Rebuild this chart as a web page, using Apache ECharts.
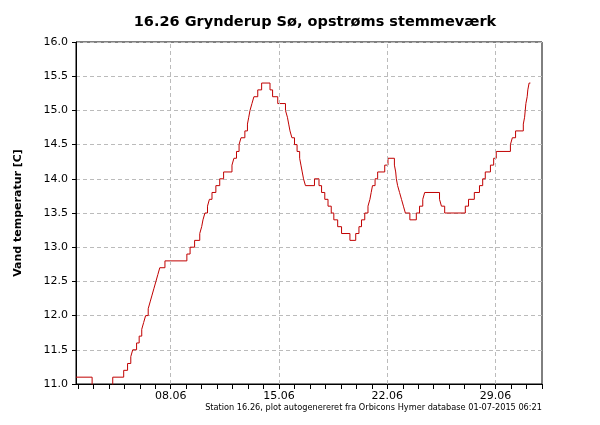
<!DOCTYPE html>
<html><head><meta charset="utf-8">
<script src="https://cdn.jsdelivr.net/npm/echarts@6/dist/echarts.min.js"></script>
<style>html,body{margin:0;padding:0;background:#fff}#c{width:600px;height:425px}</style>
</head><body><div id="c"></div>
<script>
const times = ["06-01 21","06-02 22","06-04 06","06-04 23","06-05 05","06-05 10","06-05 13","06-05 19","06-05 23","06-06 03","06-06 06","06-06 09","06-06 13","06-06 16","06-06 19","06-06 22","06-07 01","06-07 04","06-07 07","06-07 15","06-09 01","06-09 06","06-09 13","06-09 21","06-10 00","06-10 02","06-10 05","06-10 09","06-10 12","06-10 16","06-10 22","06-11 04","06-11 10","06-11 23","06-12 02","06-12 06","06-12 10","06-12 13","06-12 19","06-12 23","06-13 01","06-13 03","06-13 06","06-13 09","06-13 15","06-13 21","06-14 10","06-14 14","06-14 22","06-15 10","06-15 13","06-15 15","06-15 17","06-15 20","06-16 00","06-16 04","06-16 08","06-16 10","06-16 12","06-16 14","06-16 17","06-17 07","06-17 14","06-17 18","06-17 23","06-18 04","06-18 09","06-18 13","06-18 19","06-19 01","06-19 14","06-19 23","06-20 04","06-20 08","06-20 13","06-20 18","06-20 21","06-20 23","06-21 01","06-21 05","06-21 09","06-21 20","06-22 01","06-22 11","06-22 13","06-22 14","06-22 16","06-22 19","06-22 22","06-23 01","06-23 04","06-23 11","06-23 21","06-24 02","06-24 07","06-24 10","06-25 09","06-25 12","06-25 17","06-27 01","06-27 06","06-27 15","06-27 23","06-28 04","06-28 08","06-28 16","06-28 21","06-29 01","06-29 23","06-30 02","06-30 07","06-30 19","06-30 21","06-30 22","06-30 23","07-01 01","07-01 02","07-01 04","07-01 06"];
const temps = [11.1,10.9,11.1,11.2,11.3,11.4,11.5,11.6,11.7,11.8,11.9,12.0,12.1,12.2,12.3,12.4,12.5,12.6,12.7,12.8,12.9,13.0,13.1,13.2,13.3,13.4,13.5,13.6,13.7,13.8,13.9,14.0,14.1,14.2,14.3,14.4,14.5,14.6,14.7,14.8,14.9,15.0,15.1,15.2,15.3,15.4,15.3,15.2,15.1,15.0,14.9,14.8,14.7,14.6,14.5,14.4,14.3,14.2,14.1,14.0,13.9,14.0,13.9,13.8,13.7,13.6,13.5,13.4,13.3,13.2,13.1,13.2,13.3,13.4,13.5,13.6,13.7,13.8,13.9,14.0,14.1,14.2,14.3,14.2,14.1,14.0,13.9,13.8,13.7,13.6,13.5,13.4,13.5,13.6,13.7,13.8,13.7,13.6,13.5,13.6,13.7,13.8,13.9,14.0,14.1,14.2,14.3,14.4,14.5,14.6,14.7,14.8,14.9,15.0,15.1,15.2,15.3,15.4,15.4];
const tickDays = [7,14,21,28];
const tickLabels = ["08.06","15.06","22.06","29.06"];

function toDay(s){ // days since 01.06 00:00
  const [md,h]=s.split(' '); const [m,d]=md.split('-').map(Number);
  return (m===6? d-1 : 30+d-1) + Number(h)/24;
}
const data = times.map((t,i)=>[toDay(t),temps[i]]);
const dayTicks=[]; for(let d=1; d<=31; d++) dayTicks.push(d);
const font='DejaVu Sans';
const chart = echarts.init(document.getElementById('c'));
chart.setOption({
  animation:false,
  title:{text:'16.26 Grynderup Sø, opstrøms stemmeværk',left:310,textAlign:'center',top:10,
    textStyle:{fontFamily:font,fontSize:14.5,fontWeight:'bold',color:'#000'}},
  graphic:[{type:'text',right:58,top:404,style:{text:'Station 16.26, plot autogenereret fra Orbicons Hymer database 01-07-2015 06:21',font:'8.2px '+font,fill:'#000',textAlign:'right'}}],
  grid:{left:76,right:58,top:42,bottom:41,show:true,borderColor:'#000',borderWidth:1},
  xAxis:{type:'value',min:0.875,max:31,
    axisLine:{lineStyle:{color:'#000'}},
    axisTick:{customValues:dayTicks,length:5,lineStyle:{color:'#000'}},
    axisLabel:{customValues:tickDays,formatter:v=>tickLabels[tickDays.indexOf(Math.round(v))]||'',
      fontFamily:font,fontSize:11,color:'#000',margin:7},
    splitLine:{show:false}},
  yAxis:{type:'value',min:11,max:16,interval:0.5,
    name:'Vand temperatur [C]',nameLocation:'middle',nameGap:52,nameRotate:90,
    nameTextStyle:{fontFamily:font,fontSize:11,fontWeight:'bold',color:'#000'},
    axisLine:{show:true,lineStyle:{color:'#000'}},
    axisTick:{show:true,length:4,lineStyle:{color:'#000'}},
    axisLabel:{formatter:v=>v.toFixed(1),fontFamily:font,fontSize:11,color:'#000'},
    splitLine:{lineStyle:{color:'#bbb',type:[4,3]}}},
  series:[{type:'line',step:'end',data:data,showSymbol:false,clip:true,
    lineStyle:{color:'#c00000',width:1},
    markLine:{silent:true,symbol:'none',label:{show:false},
      lineStyle:{color:'#bbb',type:[4,3],width:1},
      data:tickDays.map(d=>({xAxis:d}))}}]
});
</script></body></html>
